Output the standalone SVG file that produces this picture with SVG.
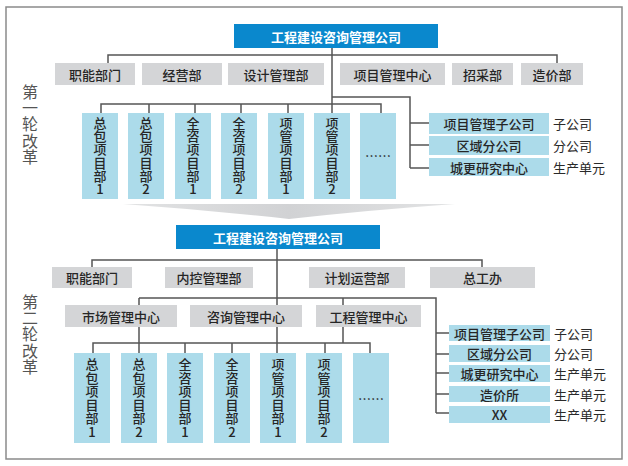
<svg xmlns="http://www.w3.org/2000/svg" width="628" height="466" viewBox="0 0 628 466">
<style>
.t{font-family:"Noto Sans CJK SC","Noto Sans",sans-serif;font-size:13px;font-weight:500;fill:#262626;text-anchor:middle;dominant-baseline:central}
.tb{font-weight:bold;fill:#fff}
.v{font-family:"Noto Sans CJK SC","Noto Sans",sans-serif;font-size:13px;font-weight:500;fill:#262626;writing-mode:vertical-rl;text-orientation:upright;text-anchor:start}
.v1{letter-spacing:0.2px}
.v2{letter-spacing:0.6px}
.lbl{font-family:"Noto Sans CJK SC","Noto Sans",sans-serif;font-size:13px;fill:#2a2a2a;dominant-baseline:central}
.side{font-family:"Noto Sans CJK SC","Noto Sans",sans-serif;font-size:16px;fill:#555;writing-mode:vertical-rl;text-orientation:upright;text-anchor:start;letter-spacing:0.2px}
.blue{fill:#0a88cd}
.gray{fill:#d4d5d7}
.lb{fill:#acdbea}
.c{fill:none;stroke:#555;stroke-width:1.5}
</style>
<defs>
<linearGradient id="wg" x1="0" y1="0" x2="1" y2="0">
<stop offset="0" stop-color="#e2e3e4"/>
<stop offset="0.5" stop-color="#d1d2d4"/>
<stop offset="1" stop-color="#e2e3e4"/>
</linearGradient>
</defs>
<rect x="0" y="0" width="628" height="466" fill="#fff"/>
<rect x="6" y="7" width="616" height="452" fill="#fff" stroke="#8a8a8a" stroke-width="1.5"/>

<g id="connectors">
<path class="c" d="M332 48 V113 M108 63 V55 H557 V63 M101 113 V104 H381 V113 M149 104 V113 M195 104 V113 M241 104 V113 M288 104 V113 M332 97 H410 V168 M410 123 H429 M410 145 H429 M410 168 H429"/>
<path class="c" d="M277 249 V353 M92 267 V260 H482 V267 M139 298 H436 V413 M139 298 V343 M343 298 V343 M93 353 V343 H370 V353 M139 343 V353 M185 343 V353 M232 343 V353 M325 343 V353 M436 333 H449 M436 354 H449 M436 373 H449 M436 394 H449 M436 413 H449"/>
</g>

<g id="wedge"><path d="M123 204 H455 Q370 210 289 219 Q208 210 123 204 Z" fill="url(#wg)"/></g>

<g id="side1"><text class="side" x="30" y="84">第一轮改革</text></g>
<g id="side2"><text class="side" x="30" y="294">第二轮改革</text></g>

<!-- Round 1 -->
<g id="r1-title"><rect class="blue" x="234" y="24" width="204" height="24"/><text class="t tb" x="336" y="36">工程建设咨询管理公司</text></g>
<g id="r1-zhineng"><rect class="gray" x="55" y="63" width="80" height="22"/><text class="t" x="95" y="74">职能部门</text></g>
<g id="r1-jingying"><rect class="gray" x="142" y="63" width="80" height="22"/><text class="t" x="182" y="74">经营部</text></g>
<g id="r1-sheji"><rect class="gray" x="228" y="63" width="96" height="22"/><text class="t" x="276" y="74">设计管理部</text></g>
<g id="r1-xiangmu"><rect class="gray" x="340" y="63" width="105" height="22"/><text class="t" x="392.5" y="74">项目管理中心</text></g>
<g id="r1-zhaocai"><rect class="gray" x="452" y="63" width="61" height="22"/><text class="t" x="482.5" y="74">招采部</text></g>
<g id="r1-zaojia"><rect class="gray" x="521" y="63" width="62" height="22"/><text class="t" x="552" y="74">造价部</text></g>

<g id="r1-p1"><rect class="lb" x="82" y="113" width="36" height="86"/><text class="v v1" x="100" y="116.5">总包项目部1</text></g>
<g id="r1-p2"><rect class="lb" x="128" y="113" width="36" height="86"/><text class="v v1" x="146" y="116.5">总包项目部2</text></g>
<g id="r1-p3"><rect class="lb" x="175" y="113" width="36" height="86"/><text class="v v1" x="193" y="116.5">全咨项目部1</text></g>
<g id="r1-p4"><rect class="lb" x="221" y="113" width="36" height="86"/><text class="v v1" x="239" y="116.5">全咨项目部2</text></g>
<g id="r1-p5"><rect class="lb" x="268" y="113" width="36" height="86"/><text class="v v1" x="286" y="116.5">项管项目部1</text></g>
<g id="r1-p6"><rect class="lb" x="314" y="113" width="36" height="86"/><text class="v v1" x="332" y="116.5">项管项目部2</text></g>
<g id="r1-p7"><rect class="lb" x="360" y="113" width="36" height="86"/><text class="t" x="378" y="155">……</text></g>

<g id="r1-zigongsi"><rect class="lb" x="429" y="113" width="120" height="21"/><text class="t" x="489" y="123.5">项目管理子公司</text><text class="lbl" x="553" y="123.5">子公司</text></g>
<g id="r1-quyu"><rect class="lb" x="429" y="136" width="120" height="19"/><text class="t" x="489" y="145.5">区域分公司</text><text class="lbl" x="553" y="145.5">分公司</text></g>
<g id="r1-chenggeng"><rect class="lb" x="429" y="158" width="120" height="18"/><text class="t" x="489" y="167">城更研究中心</text><text class="lbl" x="553" y="167">生产单元</text></g>

<!-- Round 2 -->
<g id="r2-title"><rect class="blue" x="176" y="225" width="204" height="24"/><text class="t tb" x="278" y="237">工程建设咨询管理公司</text></g>
<g id="r2-zhineng"><rect class="gray" x="52" y="267" width="80" height="21"/><text class="t" x="92" y="277.5">职能部门</text></g>
<g id="r2-neikong"><rect class="gray" x="165" y="267" width="88" height="21"/><text class="t" x="209" y="277.5">内控管理部</text></g>
<g id="r2-jihua"><rect class="gray" x="309" y="267" width="96" height="21"/><text class="t" x="357" y="277.5">计划运营部</text></g>
<g id="r2-zonggong"><rect class="gray" x="430" y="267" width="105" height="21"/><text class="t" x="482.5" y="277.5">总工办</text></g>

<g id="r2-shichang"><rect class="gray" x="65" y="305" width="112" height="22"/><text class="t" x="121" y="316">市场管理中心</text></g>
<g id="r2-zixun"><rect class="gray" x="190" y="305" width="112" height="22"/><text class="t" x="246" y="316">咨询管理中心</text></g>
<g id="r2-gongcheng"><rect class="gray" x="316" y="305" width="105" height="22"/><text class="t" x="368.5" y="316">工程管理中心</text></g>

<g id="r2-p1"><rect class="lb" x="74" y="353" width="36" height="90"/><text class="v v2" x="92" y="357.5">总包项目部1</text></g>
<g id="r2-p2"><rect class="lb" x="121" y="353" width="36" height="90"/><text class="v v2" x="139" y="357.5">总包项目部2</text></g>
<g id="r2-p3"><rect class="lb" x="167" y="353" width="36" height="90"/><text class="v v2" x="185" y="357.5">全咨项目部1</text></g>
<g id="r2-p4"><rect class="lb" x="214" y="353" width="36" height="90"/><text class="v v2" x="232" y="357.5">全咨项目部2</text></g>
<g id="r2-p5"><rect class="lb" x="260" y="353" width="36" height="90"/><text class="v v2" x="278" y="357.5">项管项目部1</text></g>
<g id="r2-p6"><rect class="lb" x="306" y="353" width="36" height="90"/><text class="v v2" x="324" y="357.5">项管项目部2</text></g>
<g id="r2-p7"><rect class="lb" x="353" y="353" width="36" height="90"/><text class="t" x="371" y="398">……</text></g>

<g id="r2-zigongsi"><rect class="lb" x="449" y="325" width="101" height="16"/><text class="t" x="499.5" y="333">项目管理子公司</text><text class="lbl" x="554" y="333">子公司</text></g>
<g id="r2-quyu"><rect class="lb" x="449" y="345" width="101" height="17"/><text class="t" x="499.5" y="353.5">区域分公司</text><text class="lbl" x="554" y="353.5">分公司</text></g>
<g id="r2-chenggeng"><rect class="lb" x="449" y="365" width="101" height="17"/><text class="t" x="499.5" y="373.5">城更研究中心</text><text class="lbl" x="554" y="373.5">生产单元</text></g>
<g id="r2-zaojiasuo"><rect class="lb" x="449" y="386" width="101" height="16"/><text class="t" x="499.5" y="394">造价所</text><text class="lbl" x="554" y="394">生产单元</text></g>
<g id="r2-xx"><rect class="lb" x="449" y="406" width="101" height="17"/><text class="t" x="499.5" y="414.5">XX</text><text class="lbl" x="554" y="414.5">生产单元</text></g>
</svg>
